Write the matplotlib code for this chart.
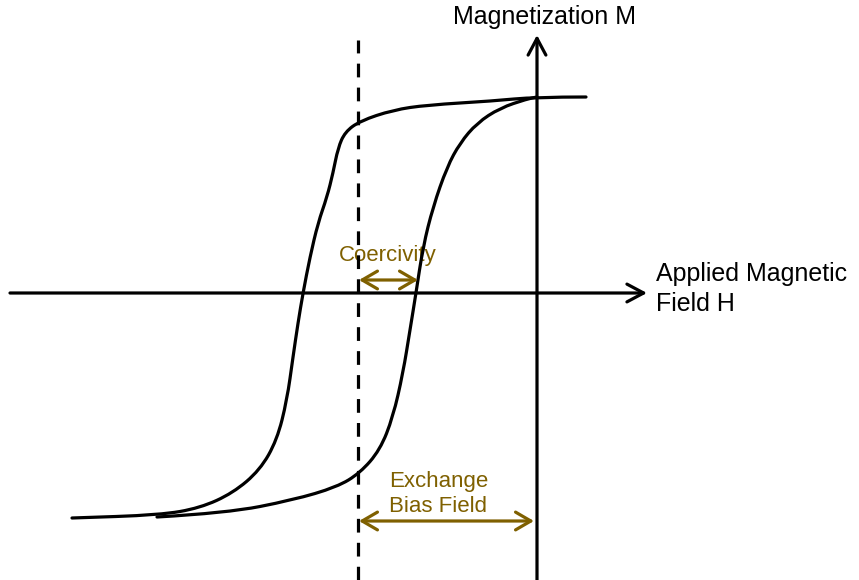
import matplotlib
matplotlib.use("Agg")
import matplotlib.pyplot as plt
from matplotlib.path import Path
from matplotlib.patches import PathPatch

plt.rcParams['font.family'] = ['Liberation Sans', 'DejaVu Sans']

# ---- data (schematic units: origin at axis crossing, H right, M up) ----
desc_H = [49, -2, -44, -110, -144, -177, -192, -199, -204, -210, -219, -227,
          -234, -239, -244, -250, -260, -277, -304, -337, -377, -465]
desc_M = [196, 196, 192, 188, 183, 172, 161, 145, 120, 96, 70, 36,
          0, -30, -64, -107, -147, -177, -200, -215, -222, -225]

asc_H = [-380, -310, -244, -200, -177, -157, -144, -134, -127, -121, -114,
         -104, -90, -77, -60, -37, -10, 0]
asc_M = [-224, -220, -207, -194, -180, -157, -124, -80, -37, 0, 46,
         86, 126, 150, 170, 185, 194, 196]

h_axis = [-527, 110]        # horizontal axis extent
m_axis = [-287, 258]        # vertical axis extent
bias_H = -179               # exchange-bias shift (dashed line)
dash_M = [-287, 253]
coerc_H = [-178, -119]
coerc_M = 13
exch_H = [-178, -3]
exch_M = -228

label_M = "Magnetization M"
label_H = "Applied Magnetic\nField H"
label_coerc = "Coercivity"
label_exch = "Exchange\nBias Field"

BROWN = "#7F6000"
LW = 2.3

fig = plt.figure(figsize=(8.59, 5.80), dpi=100)
ax = fig.add_axes([0, 0, 1, 1])
ax.set_xlim(-537, 322)
ax.set_ylim(-287, 293)
ax.set_axis_off()


def smooth_path(xs, ys):
    pts = list(zip(xs, ys))
    verts = [pts[0]]
    codes = [Path.MOVETO]
    for i in range(1, len(pts) - 1):
        mid = ((pts[i][0] + pts[i + 1][0]) / 2, (pts[i][1] + pts[i + 1][1]) / 2)
        verts += [pts[i], mid]
        codes += [Path.CURVE3, Path.CURVE3]
    verts.append(pts[-1])
    codes.append(Path.LINETO)
    return Path(verts, codes)


for xs, ys in [(desc_H, desc_M), (asc_H, asc_M)]:
    ax.add_patch(PathPatch(smooth_path(xs, ys), fill=False, lw=LW,
                           edgecolor="black", capstyle="round", zorder=3))

# axes arrows
ax.annotate("", xy=(h_axis[1], 0), xytext=(h_axis[0], 0),
            arrowprops=dict(arrowstyle="->,head_length=0.6,head_width=0.32",
                            lw=LW, color="black", shrinkA=0, shrinkB=0,
                            mutation_scale=20), zorder=2)
ax.annotate("", xy=(0, m_axis[1]), xytext=(0, m_axis[0]),
            arrowprops=dict(arrowstyle="->,head_length=0.6,head_width=0.32",
                            lw=LW, color="black", shrinkA=0, shrinkB=0,
                            mutation_scale=20), zorder=2)

# dashed exchange-bias line
ax.plot([bias_H, bias_H], dash_M, color="black", lw=LW,
        linestyle=(0, (4.3, 3.2)), zorder=4)

# coercivity arrow
ax.annotate("", xy=(coerc_H[1], coerc_M), xytext=(coerc_H[0], coerc_M),
            arrowprops=dict(arrowstyle="<->,head_length=0.55,head_width=0.32",
                            lw=LW, color=BROWN, shrinkA=0, shrinkB=0,
                            mutation_scale=20), zorder=5)
# exchange bias arrow
ax.annotate("", xy=(exch_H[1], exch_M), xytext=(exch_H[0], exch_M),
            arrowprops=dict(arrowstyle="<->,head_length=0.55,head_width=0.32",
                            lw=LW, color=BROWN, shrinkA=0, shrinkB=0,
                            mutation_scale=20), zorder=5)

# labels
ax.text(-84, 276, label_M, fontsize=18, ha="left", va="center", color="black")
ax.text(119, 4, label_H, fontsize=18, ha="left", va="center", color="black",
        linespacing=1.28)
ax.text(-149, 37, label_coerc, fontsize=16, ha="center", va="center",
        color=BROWN, zorder=2)
ax.text(-148, -201, label_exch, fontsize=16, ha="left", va="center",
        color=BROWN, linespacing=1.25)

fig.savefig("out.png", dpi=100)
